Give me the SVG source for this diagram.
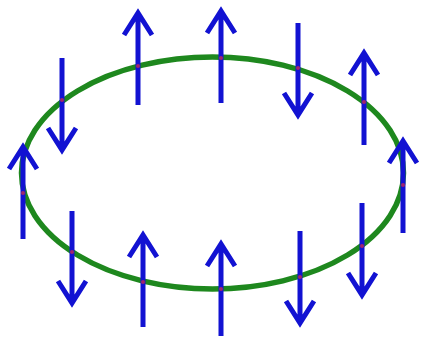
<svg xmlns="http://www.w3.org/2000/svg" width="421" height="337" viewBox="0 0 421 337">
<style>
.ring{fill:none;stroke:#1e881e;stroke-width:5.5}
.arr{fill:none;stroke:#1212d2;stroke-width:5;stroke-linejoin:miter;stroke-linecap:butt}
.dot{fill:#a0246e}
</style>
<defs>
<path id="up" class="arr" d="M0,3 V95 M-14,25 L0,3 L14,25"/>
</defs>
<rect width="421" height="337" fill="#ffffff"/>
<g id="ring"><ellipse class="ring" cx="212.5" cy="173" rx="191" ry="116"/></g>
<g id="arrows">
<g id="a1"><use href="#up" transform="translate(23,144)"/><circle class="dot" cx="23" cy="193" r="2"/></g>
<g id="a2"><use href="#up" transform="translate(62,153) scale(1,-1)"/><circle class="dot" cx="62" cy="100" r="2"/></g>
<g id="a3"><use href="#up" transform="translate(138,10)"/><circle class="dot" cx="138" cy="66" r="2"/></g>
<g id="a4"><use href="#up" transform="translate(221,8)"/><circle class="dot" cx="221" cy="58" r="2"/></g>
<g id="a5"><use href="#up" transform="translate(298,118) scale(1,-1)"/><circle class="dot" cx="298" cy="68" r="2"/></g>
<g id="a6"><use href="#up" transform="translate(364,50)"/><circle class="dot" cx="364" cy="102" r="2"/></g>
<g id="a7"><use href="#up" transform="translate(403,138)"/><circle class="dot" cx="403" cy="185" r="2"/></g>
<g id="a8"><use href="#up" transform="translate(362,298) scale(1,-1)"/><circle class="dot" cx="362" cy="246" r="2"/></g>
<g id="a9"><use href="#up" transform="translate(300,326) scale(1,-1)"/><circle class="dot" cx="300" cy="277" r="2"/></g>
<g id="a10"><use href="#up" transform="translate(221,241)"/><circle class="dot" cx="221" cy="289" r="2"/></g>
<g id="a11"><use href="#up" transform="translate(143,232)"/><circle class="dot" cx="143" cy="282" r="2"/></g>
<g id="a12"><use href="#up" transform="translate(72,306) scale(1,-1)"/><circle class="dot" cx="72" cy="252" r="2"/></g>
</g>
</svg>
